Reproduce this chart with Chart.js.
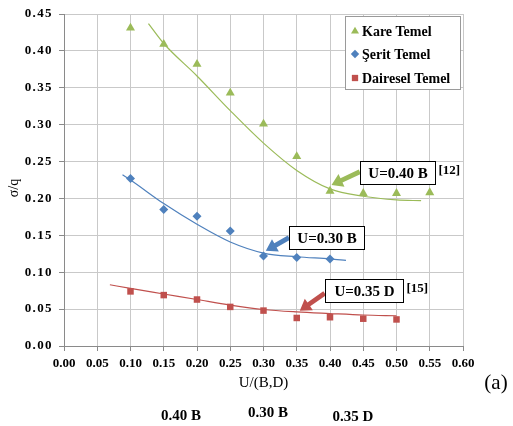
<!DOCTYPE html>
<html>
<head>
<meta charset="utf-8">
<script src="https://cdn.jsdelivr.net/npm/chart.js@4/dist/chart.umd.min.js"></script>
<style>
  html, body { margin: 0; padding: 0; background: #ffffff; }
  #wrap { width: 513px; height: 426px; position: relative; }
</style>
</head>
<body>
<div id="wrap"><canvas id="c" width="513" height="426"></canvas></div>
<script>
// Series names
const seriesNames = ['Kare Temel', 'Şerit Temel', 'Dairesel Temel'];

// Measured points: U/(B,D) vs σ/q
const kareX = [0.10, 0.15, 0.20, 0.25, 0.30, 0.35, 0.40, 0.45, 0.50, 0.55];
const kareY = [0.431, 0.409, 0.382, 0.343, 0.301, 0.257, 0.210, 0.207, 0.207, 0.208];

const seritX = [0.10, 0.15, 0.20, 0.25, 0.30, 0.35, 0.40];
const seritY = [0.227, 0.185, 0.176, 0.156, 0.122, 0.120, 0.118];

const daireX = [0.10, 0.15, 0.20, 0.25, 0.30, 0.35, 0.40, 0.45, 0.50];
const daireY = [0.074, 0.069, 0.063, 0.053, 0.048, 0.038, 0.039, 0.037, 0.036];

// Trend curves
const kareTrendX = [0.127, 0.15, 0.20, 0.25, 0.30, 0.35, 0.40, 0.45, 0.50, 0.537];
const kareTrendY = [0.437, 0.410, 0.366, 0.319, 0.275, 0.238, 0.213, 0.203, 0.198, 0.197];

const seritTrendX = [0.088, 0.10, 0.15, 0.20, 0.25, 0.30, 0.35, 0.40, 0.424];
const seritTrendY = [0.232, 0.225, 0.193, 0.165, 0.141, 0.126, 0.121, 0.118, 0.116];

const daireTrendX = [0.069, 0.10, 0.15, 0.20, 0.25, 0.30, 0.35, 0.40, 0.45, 0.50];
const daireTrendY = [0.083, 0.078, 0.0705, 0.063, 0.0555, 0.0495, 0.0462, 0.044, 0.042, 0.041];

// Axis tick labels
const xTickLabels = ['0.00','0.05','0.10','0.15','0.20','0.25','0.30','0.35','0.40','0.45','0.50','0.55','0.60'];
const yTickLabels = ['0.00','0.05','0.10','0.15','0.20','0.25','0.30','0.35','0.40','0.45'];

// Callout labels and notes under the chart
const calloutTexts = ['U=0.40 B', 'U=0.30 B', 'U=0.35 D'];
const calloutRefs = ['[12]', '', '[15]'];
const footTexts = ['0.40 B', '0.30 B', '0.35 D'];

const GREEN = '#9bbb59', BLUE = '#4f81bd', RED = '#c0504d';
const SERIF = "'Liberation Serif', 'Times New Roman', serif";

const pts = (xs, ys) => xs.map((x, i) => ({ x: x, y: ys[i] }));

function drawMarker(ctx, style, x, y, r, color) {
  ctx.save();
  ctx.fillStyle = color;
  ctx.beginPath();
  if (style === 'triangle') {
    ctx.moveTo(x, y - r);
    ctx.lineTo(x + r * 0.95, y + r * 0.6);
    ctx.lineTo(x - r * 0.95, y + r * 0.6);
  } else if (style === 'rectRot') {
    ctx.moveTo(x, y - r); ctx.lineTo(x + r, y); ctx.lineTo(x, y + r); ctx.lineTo(x - r, y);
  } else {
    ctx.rect(x - r * 0.75, y - r * 0.75, r * 1.5, r * 1.5);
  }
  ctx.closePath();
  ctx.fill();
  ctx.restore();
}

function drawArrow(ctx, x0, y0, x1, y1, color) {
  const ang = Math.atan2(y1 - y0, x1 - x0);
  const len = Math.hypot(x1 - x0, y1 - y0);
  const hl = 11, hw = 7, sw = 2.4;
  ctx.save();
  ctx.translate(x0, y0);
  ctx.rotate(ang);
  ctx.beginPath();
  ctx.moveTo(0, -sw); ctx.lineTo(len - hl, -sw); ctx.lineTo(len - hl, -hw);
  ctx.lineTo(len, 0);
  ctx.lineTo(len - hl, hw); ctx.lineTo(len - hl, sw); ctx.lineTo(0, sw);
  ctx.closePath();
  ctx.fillStyle = color;
  ctx.fill();
  ctx.restore();
}

// Callouts placed in data units (box centre, arrow tail and arrow tip)
const callouts = [
  { color: GREEN, box: [0.5022, 0.2354], w: 75, h: 23, tail: [0.4448, 0.2362], tip: [0.4023, 0.2182] },
  { color: BLUE,  box: [0.3947, 0.1468], w: 75, h: 23, tail: [0.3383, 0.1468], tip: [0.3035, 0.1292] },
  { color: RED,   box: [0.4511, 0.0754], w: 78, h: 23, tail: [0.3920, 0.0715], tip: [0.3546, 0.0478] }
];

const overlayPlugin = {
  id: 'overlay',
  afterLayout(chart) {
    // wider letter spacing on the value-axis labels
    const ys = chart.scales.y;
    if (!ys._spaced && typeof ys.drawLabels === 'function') {
      const orig = ys.drawLabels.bind(ys);
      ys.drawLabels = function (area) {
        const c = this.ctx;
        c.save();
        c.letterSpacing = '1.4px';
        orig(area);
        c.restore();
      };
      ys._spaced = true;
    }
  },
  afterDatasetsDraw(chart) {
    const ctx = chart.ctx;
    const xs = chart.scales.x, ys = chart.scales.y;

    // callouts
    callouts.forEach((c, i) => {
      const bx = xs.getPixelForValue(c.box[0]);
      const by = ys.getPixelForValue(c.box[1]);
      drawArrow(ctx, xs.getPixelForValue(c.tail[0]), ys.getPixelForValue(c.tail[1]),
                xs.getPixelForValue(c.tip[0]), ys.getPixelForValue(c.tip[1]), c.color);
      ctx.save();
      ctx.fillStyle = '#ffffff';
      ctx.strokeStyle = '#000000';
      ctx.lineWidth = 1;
      const left = Math.round(bx - c.w / 2) + 0.5, top = Math.round(by - c.h / 2) + 0.5;
      ctx.fillRect(left, top, c.w, c.h);
      ctx.strokeRect(left, top, c.w, c.h);
      ctx.fillStyle = '#000000';
      ctx.font = 'bold 15px ' + SERIF;
      ctx.textAlign = 'center';
      ctx.textBaseline = 'middle';
      ctx.fillText(calloutTexts[i], left + c.w / 2, top + c.h / 2 + 1);
      if (calloutRefs[i]) {
        ctx.font = 'bold 13px ' + SERIF;
        ctx.textAlign = 'left';
        ctx.fillText(calloutRefs[i], left + c.w + 3, top + c.h / 2 - 2);
      }
      ctx.restore();
    });

    // legend box
    const lx = 345.5, ly = 16.5, lw = 115, lh = 73;
    ctx.save();
    ctx.fillStyle = '#ffffff';
    ctx.fillRect(lx, ly, lw, lh);
    ctx.strokeStyle = '#9a9a9a';
    ctx.lineWidth = 1;
    ctx.strokeRect(lx, ly, lw, lh);
    const styles = ['triangle', 'rectRot', 'rect'];
    const colors = [GREEN, BLUE, RED];
    const rowY = [31, 54, 78];
    ctx.font = 'bold 14px ' + SERIF;
    ctx.textBaseline = 'middle';
    ctx.textAlign = 'left';
    seriesNames.forEach((name, i) => {
      drawMarker(ctx, styles[i], 355, rowY[i], 4.2, colors[i]);
      ctx.fillStyle = '#000000';
      ctx.fillText(name, 362, rowY[i] + 1);
    });
    ctx.restore();
  },
  afterDraw(chart) {
    const ctx = chart.ctx;
    ctx.save();
    ctx.fillStyle = '#000000';
    ctx.textAlign = 'center';
    ctx.textBaseline = 'middle';
    // value-axis title
    ctx.save();
    ctx.translate(14.5, 188);
    ctx.rotate(-Math.PI / 2);
    ctx.font = '14px ' + SERIF;
    ctx.fillText('σ/q', 0, 0);
    ctx.restore();
    ctx.font = '21px ' + SERIF;
    ctx.fillText('(a)', 496, 383);
    ctx.font = 'bold 15px ' + SERIF;
    const fx = [181, 268, 353];
    const fy = [416, 413, 417];
    footTexts.forEach((t, i) => ctx.fillText(t, fx[i], fy[i]));
    ctx.restore();
  }
};

const chart = new Chart(document.getElementById('c'), {
  type: 'scatter',
  data: {
    datasets: [
      { label: seriesNames[0], data: pts(kareX, kareY), pointStyle: 'triangle', pointRadius: 5.2,
        backgroundColor: GREEN, borderColor: GREEN, borderWidth: 0, order: 1 },
      { label: seriesNames[1], data: pts(seritX, seritY), pointStyle: 'rectRot', pointRadius: 4.5,
        backgroundColor: BLUE, borderColor: BLUE, borderWidth: 0, order: 1 },
      { label: seriesNames[2], data: pts(daireX, daireY), pointStyle: 'rect', pointRadius: 4.6,
        backgroundColor: RED, borderColor: RED, borderWidth: 0, order: 1 },
      { label: 'trend-kare', data: pts(kareTrendX, kareTrendY), showLine: true, pointRadius: 0,
        borderColor: GREEN, borderWidth: 1.2, cubicInterpolationMode: 'monotone', order: 2 },
      { label: 'trend-serit', data: pts(seritTrendX, seritTrendY), showLine: true, pointRadius: 0,
        borderColor: BLUE, borderWidth: 1.2, cubicInterpolationMode: 'monotone', order: 2 },
      { label: 'trend-daire', data: pts(daireTrendX, daireTrendY), showLine: true, pointRadius: 0,
        borderColor: RED, borderWidth: 1.2, cubicInterpolationMode: 'monotone', order: 2 }
    ]
  },
  options: {
    responsive: false,
    animation: false,
    events: [],
    layout: { padding: { left: 0, right: 50, top: 14, bottom: 34 } },
    plugins: { legend: { display: false }, tooltip: { enabled: false } },
    scales: {
      x: {
        type: 'linear', min: 0, max: 0.6,
        afterFit: (s) => { s.height = 46; },
        ticks: {
          stepSize: 0.05, padding: 5, color: '#000000', maxRotation: 0, autoSkip: false,
          font: { family: SERIF, size: 13, weight: 'bold' },
          callback: (v, i) => xTickLabels[i]
        },
        grid: { color: '#c9c9c9', lineWidth: 1, tickLength: 5, tickColor: '#8a8a8a' },
        border: { color: '#8a8a8a' },
        title: { display: true, text: 'U/(B,D)', color: '#000000', padding: { top: 3, bottom: 0 },
                 font: { family: SERIF, size: 15 } }
      },
      y: {
        type: 'linear', min: 0, max: 0.45,
        afterFit: (s) => { s.width = 64; },
        ticks: {
          stepSize: 0.05, padding: 6, color: '#000000',
          font: { family: SERIF, size: 13, weight: 'bold' },
          callback: (v, i) => yTickLabels[i]
        },
        grid: { color: '#c9c9c9', lineWidth: 1, tickLength: 5, tickColor: '#8a8a8a' },
        border: { color: '#8a8a8a' }
      }
    }
  },
  plugins: [overlayPlugin]
});
</script>
</body>
</html>
